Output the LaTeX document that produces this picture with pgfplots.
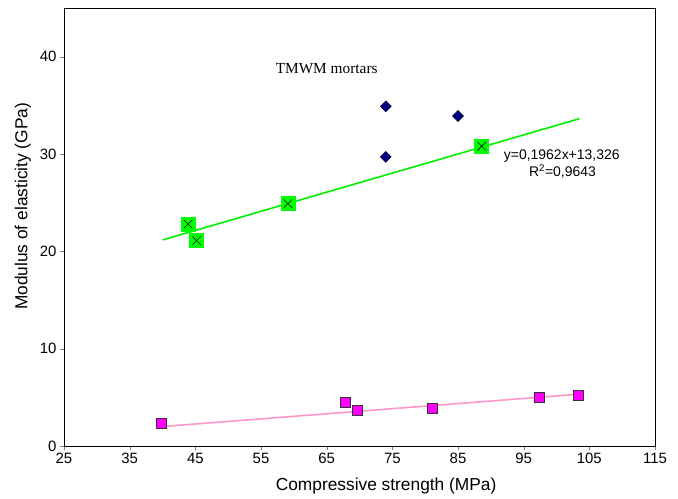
\documentclass[border=0pt]{standalone}
\usepackage{fontspec}
\setmainfont{Liberation Sans}
\newfontfamily\timesf{Liberation Serif}
\usepackage{pgfplots}
\pgfplotsset{compat=1.18}
\definecolor{lgreen}{RGB}{0,240,0}
\definecolor{mgreen}{RGB}{0,255,0}
\definecolor{navyd}{RGB}{0,0,128}
\definecolor{magf}{RGB}{255,0,255}
\definecolor{pinkl}{RGB}{255,150,200}
\begin{document}
\begin{tikzpicture}
\begin{axis}[
  scale only axis, width=591bp, height=438bp,
  xmin=25, xmax=115, ymin=0, ymax=45,
  xtick={25,35,...,115}, ytick={0,10,20,30,40},
  tick align=outside, xtick pos=bottom, ytick pos=left,
  major tick length=4bp,
  /pgf/number format/assume math mode=true,
  tick label style={font=\fontsize{15}{18}\selectfont},
  xlabel={Compressive strength (MPa)},
  ylabel={Modulus of elasticity (GPa)},
  label style={font=\fontsize{17.4}{20}\selectfont},
  xlabel style={at={(axis description cs:0.545,-0.0913)}, anchor=center},
  ylabel style={at={(axis description cs:-0.0694,0.547)}, anchor=center},
  axis line style={line width=0.8bp},
  clip=false,
]
% green trend line
\addplot[draw=lgreen, line width=1.6bp, no marks] coordinates {(40,21.17) (103.5,33.63)};
% pink trend line
\addplot[draw=pinkl, line width=1.6bp, no marks] coordinates {(40,2.0) (103.5,5.33)};
% green squares with X
\addplot[only marks, mark=square*, mark size=7bp, mark options={fill=mgreen, draw=mgreen}] coordinates {
(43.9,22.8) (45.2,21.1) (59.1,24.9) (88.6,30.8)};
\addplot[only marks, mark=x, mark size=6bp, mark options={draw=black, line width=0.6bp}] coordinates {
(43.9,22.8) (45.2,21.1) (59.1,24.9) (88.6,30.8)};
% navy diamonds
\addplot[only marks, mark=square*, mark size=3.9bp, mark options={rotate=45, fill=navyd, draw=black, line width=0.4bp}] coordinates {
(74.0,34.9) (85.0,33.9) (74.0,29.7)};
% magenta squares
\addplot[only marks, mark=square*, mark size=5bp, mark options={fill=magf, draw=black!80, line width=0.8bp}] coordinates {
(39.9,2.3) (67.8,4.5) (69.7,3.7) (81.1,3.9) (97.4,5.0) (103.3,5.2)};
\node[font=\timesf\fontsize{15.4}{18}\selectfont] at (axis cs:65,38.8) {TMWM mortars};
\node[font=\fontsize{14}{16}\selectfont] at (axis cs:100.8,29.8) {y=0,1962x+13,326};
\node[font=\fontsize{14}{16}\selectfont] at (axis cs:100.9,28.2) {R\textsuperscript{2}=0,9643};
\coordinate (O) at (rel axis cs:0,0);
\coordinate (T) at (rel axis cs:1,1);
\end{axis}
\pgfresetboundingbox
\path ([shift={(-64bp,-52bp)}]O) rectangle ([shift={(23bp,8bp)}]T);
\end{tikzpicture}
\end{document}
